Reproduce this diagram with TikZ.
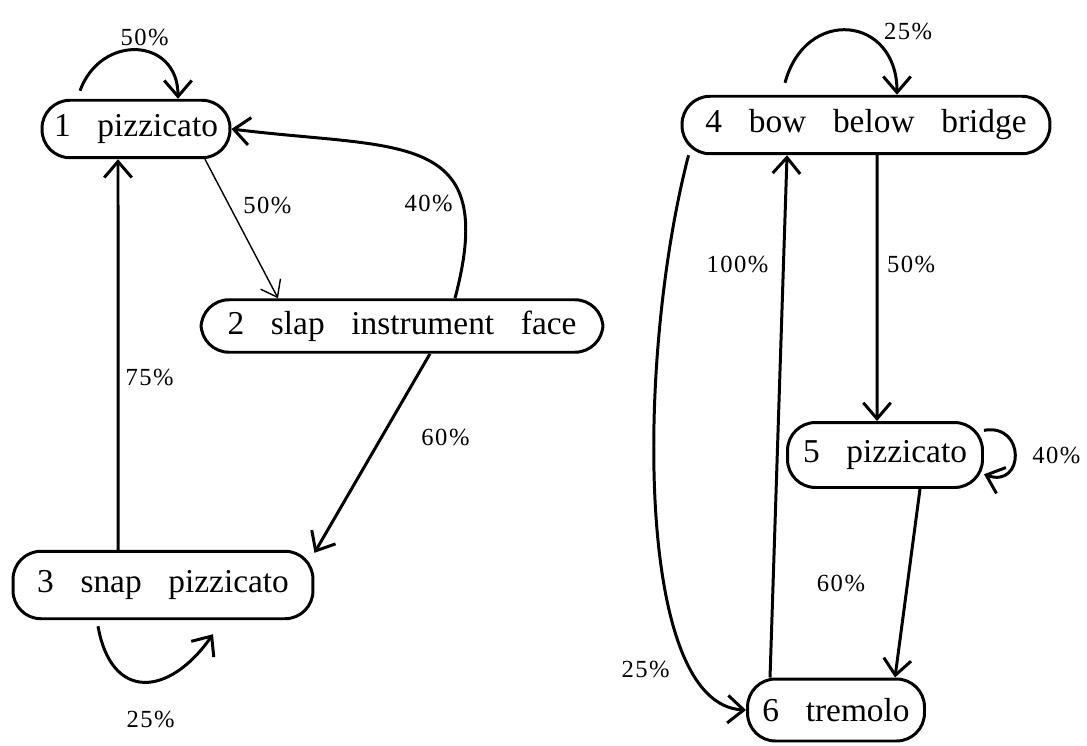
\documentclass[tikz,border=0pt]{standalone}
\usepackage{fontspec}
\setmainfont{Liberation Serif}
\newfontfamily\probfamily[LetterSpace=6]{Liberation Serif}
\usepackage{tikz}
\usetikzlibrary{arrows.meta, positioning}

\newcommand{\statefont}{\fontsize{19}{22}\selectfont\spaceskip=0.8em\relax}
\newcommand{\probfont}{\probfamily\fontsize{14}{16}\selectfont}

\begin{document}
\begin{tikzpicture}[x=0.02cm, y=-0.02cm,
    sound/.style={draw, line width=1.7pt, rounded corners=0.56cm, minimum height=1.15cm,
                  inner sep=2pt, font=\statefont},
    trans/.style={line width=1.7pt, -{Straight Barb[length=0.32cm, width=0.55cm]}},
    lighttrans/.style={line width=0.8pt, -{Straight Barb[length=0.3cm, width=0.45cm]}},
    prob/.style={font=\probfont, inner sep=2pt}]

    \useasboundingbox (0,0) rectangle (1087,746);

    % States - left group
    \node[sound, minimum width=3.76cm] (pizz1) at (136,129) {1 pizzicato};
    \node[sound, minimum width=8.04cm, minimum height=1.05cm] (slap2) at (402,326) {2 slap instrument face};
    \node[sound, minimum width=6.0cm, minimum height=1.35cm] (snap3) at (163,585) {3 snap pizzicato};

    % States - right group
    \node[sound, minimum width=7.36cm] (bow4) at (866,125) {4 bow below bridge};
    \node[sound, minimum width=3.9cm, minimum height=1.3cm] (pizz5) at (885,455) {5 pizzicato};
    \node[sound, minimum width=3.54cm, minimum height=1.24cm] (trem6) at (836,710) {6 tremolo};

    % Transitions - left group
    \draw[trans] ([xshift=-1.12cm, yshift=0.16cm]pizz1.north) to[out=70, in=90, looseness=1.6]
        node[prob, above, pos=0.56] (p11) {50\%} ([xshift=0.84cm]pizz1.north);
    \draw[lighttrans] ([xshift=1.38cm]pizz1.south) --
        node[prob, right=0.2cm, pos=0.33] (p12) {50\%} ([xshift=-2.48cm]slap2.north);
    \draw[trans] ([xshift=1.06cm]slap2.north) .. controls +(45,-170) and +(168,21) ..
        node[prob, left=0.1cm, pos=0.25] (p21) {40\%} (pizz1.east);
    \draw[trans] ([xshift=0.56cm]slap2.south) --
        node[prob, right=0.7cm, pos=0.42] (p23) {60\%} (snap3.12);
    \draw[trans] ([xshift=-0.9cm]snap3.north) --
        node[prob, right=0.05cm, pos=0.44] (p31) {75\%} ([xshift=-0.36cm]pizz1.south);
    \draw[trans] ([xshift=-1.3cm, yshift=-0.12cm]snap3.south) to[out=-80, in=-125, looseness=1.7]
        node[prob, below=0.5cm, pos=0.55] (p33) {25\%} ([xshift=1.0cm, yshift=-0.28cm]snap3.south);

    % Transitions - right group
    \draw[trans] ([xshift=-1.62cm, yshift=0.24cm]bow4.north) to[out=75, in=90, looseness=1.8]
        node[prob, above right, pos=0.72] (p44) {25\%} ([xshift=0.62cm]bow4.north);
    \draw[trans] ([xshift=0.22cm]bow4.south) --
        node[prob, right=0.1cm, pos=0.41] (p45) {50\%} ([xshift=-0.16cm]pizz5.north);
    \draw[trans] ([xshift=-3.55cm]bow4.south) .. controls +(-52,200) and +(-112,-5) ..
        node[prob, left=0.35cm, pos=0.8] (p46) {25\%} (trem6.west);
    \draw[trans] ([xshift=-1.32cm]trem6.north) --
        node[prob, left=0.2cm, pos=0.79] (p64) {100\%} ([xshift=-1.58cm]bow4.south);
    \draw[trans] (pizz5.14) to[out=10, in=-20, looseness=2.5]
        node[prob, right=0.25cm] (p55) {40\%} (pizz5.-11);
    \draw[trans] ([xshift=0.7cm]pizz5.south) --
        node[prob, left=0.75cm] (p56) {60\%} ([xshift=1.18cm]trem6.north);
\end{tikzpicture}
\end{document}
